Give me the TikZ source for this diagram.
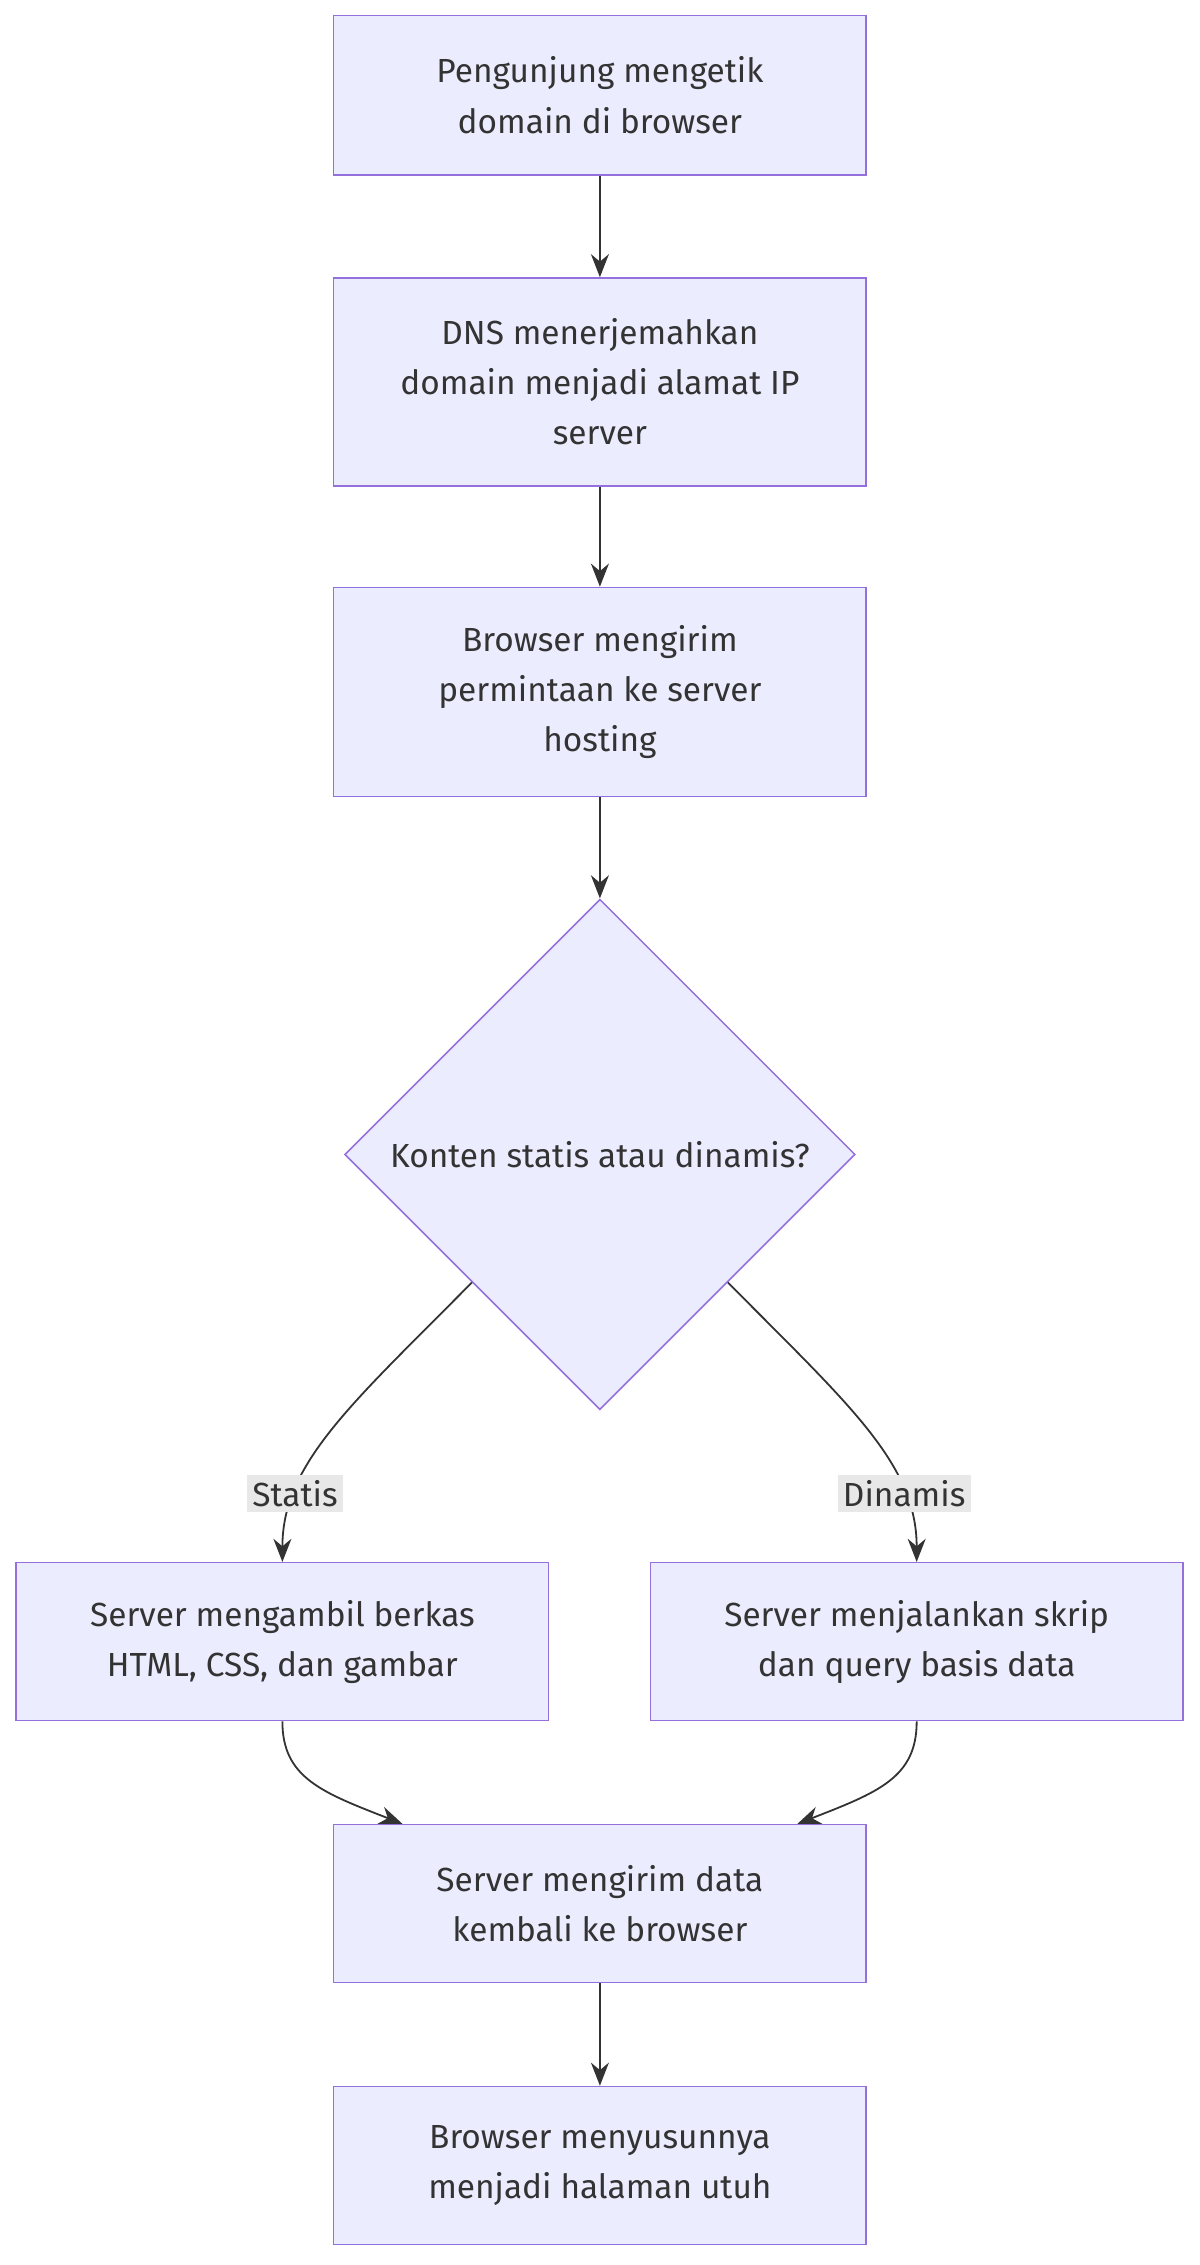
\documentclass[tikz,border=0pt]{standalone}
\usepackage{fontspec}
\setmainfont{Fira Sans}
\usetikzlibrary{shapes.geometric, arrows.meta}
\definecolor{boxfill}{HTML}{ECECFF}
\definecolor{boxline}{HTML}{9370DB}
\definecolor{ink}{HTML}{333333}
\definecolor{lblfill}{HTML}{E8E8E8}
\begin{document}
\begin{tikzpicture}
        [x=0.02cm, y=-0.02cm,
        every node/.style={font=\fontsize{13}{19.5}\selectfont, text=ink},
        stage/.style={draw=boxline, fill=boxfill, line width=0.6pt, minimum width=7.28cm,
          align=center, inner sep=0pt},
        choice/.style={draw=boxline, fill=boxfill, line width=0.6pt, diamond, aspect=1,
          minimum size=6.98cm, inner sep=0pt},
        flow/.style={draw=ink, line width=0.7pt, -{Stealth[length=9pt,width=7pt]}},
        tag/.style={fill=lblfill, inner sep=2pt}]

    \useasboundingbox (0,0) rectangle (820,1548);

    \node[stage, minimum height=2.18cm] (visit) at (410,65) {Pengunjung mengetik\\domain di browser};
    \node[stage, minimum height=2.84cm] (dns) at (410,261) {DNS menerjemahkan\\domain menjadi alamat IP\\server};
    \node[stage, minimum height=2.86cm] (req) at (410,473) {Browser mengirim\\permintaan ke server\\hosting};
    \node[choice] (kind) at (410,789) {Konten statis atau dinamis?};
    \node[stage, minimum height=2.16cm] (static) at (193,1122) {Server mengambil berkas\\HTML, CSS, dan gambar};
    \node[stage, minimum height=2.16cm] (dynamic) at (626.5,1122) {Server menjalankan skrip\\dan query basis data};
    \node[stage, minimum height=2.16cm] (send) at (410,1301) {Server mengirim data\\kembali ke browser};
    \node[stage, minimum height=2.16cm] (page) at (410,1480) {Browser menyusunnya\\menjadi halaman utuh};

    \coordinate (sendL) at ([xshift=-2.7cm]send.north);
    \coordinate (sendR) at ([xshift=2.7cm]send.north);

    \draw[flow] (visit) -- (dns);
    \draw[flow] (dns) -- (req);
    \draw[flow] (req) -- (kind);
    \draw[flow] (kind.south west) .. controls (240,960) and (193,1000) ..
      node[tag, pos=0.75] {Statis} (static.north);
    \draw[flow] (kind.south east) .. controls (580,960) and (626.5,1000) ..
      node[tag, pos=0.75] {Dinamis} (dynamic.north);
    \draw[flow] (static.south) .. controls (193,1215) and (220,1225) .. (sendL);
    \draw[flow] (dynamic.south) .. controls (626.5,1215) and (600,1225) .. (sendR);
    \draw[flow] (send) -- (page);
\end{tikzpicture}
\end{document}
